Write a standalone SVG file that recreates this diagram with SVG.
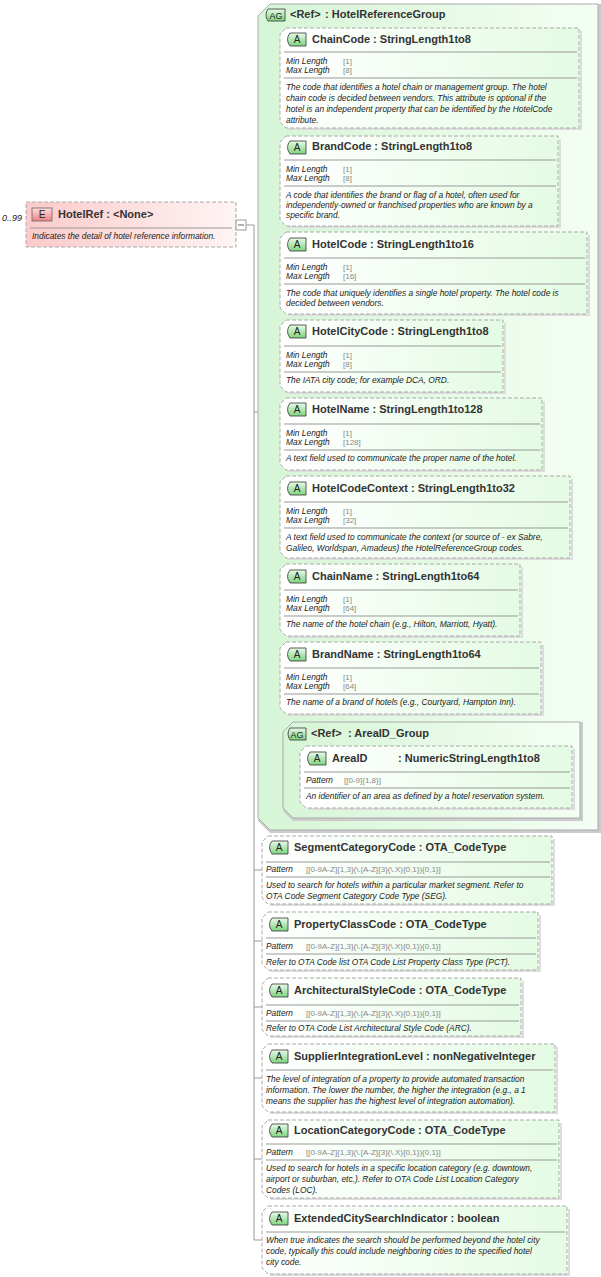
<svg xmlns="http://www.w3.org/2000/svg" width="601" height="1277" viewBox="0 0 601 1277">
<defs>
<linearGradient id="ga" x1="0" y1="0" x2="1" y2="0"><stop offset="0" stop-color="#ffffff"/><stop offset="1" stop-color="#e4fbe4"/></linearGradient>
<linearGradient id="gg" x1="0" y1="0" x2="1" y2="0"><stop offset="0" stop-color="#d6f5d6"/><stop offset="1" stop-color="#f4fef4"/></linearGradient>
<linearGradient id="ge" x1="0" y1="0" x2="1" y2="0"><stop offset="0" stop-color="#fbcaca"/><stop offset="1" stop-color="#fff4f4"/></linearGradient>
<linearGradient id="gb" x1="0" y1="0" x2="0" y2="1"><stop offset="0" stop-color="#e8fbe8"/><stop offset="1" stop-color="#7fd37f"/></linearGradient>
<linearGradient id="geb" x1="0" y1="0" x2="0" y2="1"><stop offset="0" stop-color="#ffdddd"/><stop offset="1" stop-color="#f08080"/></linearGradient>
</defs>
<style>
.bx{fill:url(#ga);stroke:#aaa;stroke-dasharray:4,2;stroke-width:1}
.sh{fill:none;stroke:#ddd;stroke-width:2}
.ag{fill:url(#gg);stroke:#aaa;stroke-width:1}
.sep{stroke:#999;stroke-width:1}
.bd{fill:url(#gb);stroke:#333;stroke-width:0.8}
.h{font-family:"Liberation Sans",Arial,sans-serif;font-size:11px;font-weight:bold;fill:#333}
.bt{font-family:"Liberation Sans",Arial,sans-serif;font-size:10px;fill:#222}
.i{font-family:"Liberation Sans",Arial,sans-serif;font-size:8.4px;font-style:italic;fill:#222}
.v{font-family:"Liberation Sans",Arial,sans-serif;font-size:8px;fill:#888}
.c{fill:none;stroke:#999;stroke-width:1}
</style>
<g id="connectors">
<path class="c" d="M246,225 H254 V1240 M254,412 H258 M254,870 H262 M254,941 H262 M254,1007 H262 M254,1078 H262 M254,1159 H262 M254,1240 H262"/>
<path class="c" d="M268,78 V768 M268,78 H280 M268,181 H280 M268,273 H280 M268,356 H280 M268,434 H280 M268,517 H280 M268,600 H280 M268,678 H280 M268,768 H283 M283,777 H300"/>
</g>
<g id="HotelRef">
<text x="2" y="221" class="i" style="font-size:9px">0..99</text>
<path d="M26,202 H236 V247 H26 Z" fill="url(#ge)" stroke="#aaa" stroke-dasharray="4,2"/>
<rect x="32" y="208" width="20" height="13" fill="url(#geb)" stroke="#666" stroke-width="0.8"/>
<text x="42" y="218" class="bt" text-anchor="middle">E</text>
<text x="58" y="218" class="h">HotelRef : &lt;None&gt;</text>
<line x1="30" y1="228" x2="232" y2="228" class="sep"/>
<text x="32" y="239" class="i">Indicates the detail of hotel reference information.</text>
<rect x="236" y="220" width="10" height="10" fill="#fff" stroke="#999"/>
<line x1="238" y1="225" x2="244" y2="225" stroke="#666"/>
</g>
<g id="HotelReferenceGroup">
<path d="M270,4 H601 V833 H270 L258,821 V16 Z" fill="#ccc"/>
<path class="ag" d="M270,4 H598 V830 H270 L258,818 V16 Z"/>
<path class="bd" d="M268,9 H285 V21 H268 Q264,15 268,9 Z"/>
<text x="276" y="19" class="bt" text-anchor="middle" style="font-size:9px">AG</text>
<text x="290" y="18" class="h">&lt;Ref&gt;</text><text x="325" y="18" class="h">: HotelReferenceGroup</text>
</g>
<g id="ChainCode" transform="translate(280,28)">
<path class="sh" d="M301,3 V101 H8"/>
<path class="bx" d="M6,0 H299 V100 H6 L0,94 V6 Z"/>
<path class="bd" d="M10,5 H26 V18 H10 Q5,11.5 10,5 Z"/><text x="17" y="15" class="bt" text-anchor="middle">A</text>
<text x="32" y="15" class="h">ChainCode : StringLength1to8</text>
<line x1="4" y1="24" x2="297" y2="24" class="sep"/>
<text x="6" y="36" class="i">Min Length</text><text x="63" y="36" class="v">[1]</text>
<text x="6" y="45" class="i">Max Length</text><text x="63" y="45" class="v">[8]</text>
<line x1="4" y1="50" x2="297" y2="50" class="sep"/>
<text x="6" y="62" class="i">The code that identifies a hotel chain or management group. The hotel</text>
<text x="6" y="73" class="i">chain code is decided between vendors.  This attribute is optional if the</text>
<text x="6" y="84" class="i">hotel is an independent property that can be identified by the HotelCode</text>
<text x="6" y="95" class="i">attribute.</text>
</g>
<g id="BrandCode" transform="translate(280,136)">
<path class="sh" d="M280,3 V91 H8"/>
<path class="bx" d="M6,0 H278 V90 H6 L0,84 V6 Z"/>
<path class="bd" d="M10,5 H26 V18 H10 Q5,11.5 10,5 Z"/><text x="17" y="15" class="bt" text-anchor="middle">A</text>
<text x="32" y="14" class="h">BrandCode : StringLength1to8</text>
<line x1="4" y1="24" x2="276" y2="24" class="sep"/>
<text x="6" y="36" class="i">Min Length</text><text x="63" y="36" class="v">[1]</text>
<text x="6" y="45" class="i">Max Length</text><text x="63" y="45" class="v">[8]</text>
<line x1="4" y1="50" x2="276" y2="50" class="sep"/>
<text x="6" y="62" class="i">A code that identifies the brand or flag of a hotel, often used for</text>
<text x="6" y="72" class="i">independently-owned or franchised properties who are known by a</text>
<text x="6" y="82" class="i">specific brand.</text>
</g>
<g id="HotelCode" transform="translate(280,232)">
<path class="sh" d="M309,3 V83 H8"/>
<path class="bx" d="M6,0 H307 V82 H6 L0,76 V6 Z"/>
<path class="bd" d="M10,6 H26 V19 H10 Q5,12.5 10,6 Z"/><text x="17" y="16" class="bt" text-anchor="middle">A</text>
<text x="32" y="16" class="h">HotelCode : StringLength1to16</text>
<line x1="4" y1="26" x2="305" y2="26" class="sep"/>
<text x="6" y="38" class="i">Min Length</text><text x="63" y="38" class="v">[1]</text>
<text x="6" y="47" class="i">Max Length</text><text x="63" y="47" class="v">[16]</text>
<line x1="4" y1="52" x2="305" y2="52" class="sep"/>
<text x="6" y="64" class="i">The code that uniquely identifies a single hotel property. The hotel code is</text>
<text x="6" y="74" class="i">decided between vendors.</text>
</g>
<g id="HotelCityCode" transform="translate(280,320)">
<path class="sh" d="M225,3 V73 H8"/>
<path class="bx" d="M6,0 H223 V72 H6 L0,66 V6 Z"/>
<path class="bd" d="M10,5 H26 V18 H10 Q5,11.5 10,5 Z"/><text x="17" y="15" class="bt" text-anchor="middle">A</text>
<text x="32" y="15" class="h">HotelCityCode : StringLength1to8</text>
<line x1="4" y1="26" x2="221" y2="26" class="sep"/>
<text x="6" y="38" class="i">Min Length</text><text x="63" y="38" class="v">[1]</text>
<text x="6" y="47" class="i">Max Length</text><text x="63" y="47" class="v">[8]</text>
<line x1="4" y1="52" x2="221" y2="52" class="sep"/>
<text x="6" y="63" class="i">The IATA city code; for example DCA, ORD.</text>
</g>
<g id="HotelName" transform="translate(280,398)">
<path class="sh" d="M264,3 V73 H8"/>
<path class="bx" d="M6,0 H262 V72 H6 L0,66 V6 Z"/>
<path class="bd" d="M10,5 H26 V18 H10 Q5,11.5 10,5 Z"/><text x="17" y="15" class="bt" text-anchor="middle">A</text>
<text x="32" y="15" class="h">HotelName : StringLength1to128</text>
<line x1="4" y1="26" x2="260" y2="26" class="sep"/>
<text x="6" y="38" class="i">Min Length</text><text x="63" y="38" class="v">[1]</text>
<text x="6" y="47" class="i">Max Length</text><text x="63" y="47" class="v">[128]</text>
<line x1="4" y1="52" x2="260" y2="52" class="sep"/>
<text x="6" y="63" class="i">A text field used to communicate the proper name of the hotel.</text>
</g>
<g id="HotelCodeContext" transform="translate(280,476)">
<path class="sh" d="M292,3 V83 H8"/>
<path class="bx" d="M6,0 H290 V82 H6 L0,76 V6 Z"/>
<path class="bd" d="M10,6 H26 V19 H10 Q5,12.5 10,6 Z"/><text x="17" y="16" class="bt" text-anchor="middle">A</text>
<text x="32" y="16" class="h">HotelCodeContext : StringLength1to32</text>
<line x1="4" y1="26" x2="288" y2="26" class="sep"/>
<text x="6" y="38" class="i">Min Length</text><text x="63" y="38" class="v">[1]</text>
<text x="6" y="47" class="i">Max Length</text><text x="63" y="47" class="v">[32]</text>
<line x1="4" y1="52" x2="288" y2="52" class="sep"/>
<text x="6" y="64" class="i">A text field used to communicate the context (or source of - ex Sabre,</text>
<text x="6" y="75" class="i">Galileo, Worldspan, Amadeus) the HotelReferenceGroup codes.</text>
</g>
<g id="ChainName" transform="translate(280,564)">
<path class="sh" d="M242,3 V73 H8"/>
<path class="bx" d="M6,0 H240 V72 H6 L0,66 V6 Z"/>
<path class="bd" d="M10,6 H26 V19 H10 Q5,12.5 10,6 Z"/><text x="17" y="16" class="bt" text-anchor="middle">A</text>
<text x="32" y="16" class="h">ChainName : StringLength1to64</text>
<line x1="4" y1="26" x2="238" y2="26" class="sep"/>
<text x="6" y="38" class="i">Min Length</text><text x="63" y="38" class="v">[1]</text>
<text x="6" y="47" class="i">Max Length</text><text x="63" y="47" class="v">[64]</text>
<line x1="4" y1="52" x2="238" y2="52" class="sep"/>
<text x="6" y="63" class="i">The name of the hotel chain (e.g., Hilton, Marriott, Hyatt).</text>
</g>
<g id="BrandName" transform="translate(280,642)">
<path class="sh" d="M263,3 V73 H8"/>
<path class="bx" d="M6,0 H261 V72 H6 L0,66 V6 Z"/>
<path class="bd" d="M10,6 H26 V19 H10 Q5,12.5 10,6 Z"/><text x="17" y="16" class="bt" text-anchor="middle">A</text>
<text x="32" y="16" class="h">BrandName : StringLength1to64</text>
<line x1="4" y1="26" x2="259" y2="26" class="sep"/>
<text x="6" y="38" class="i">Min Length</text><text x="63" y="38" class="v">[1]</text>
<text x="6" y="47" class="i">Max Length</text><text x="63" y="47" class="v">[64]</text>
<line x1="4" y1="52" x2="259" y2="52" class="sep"/>
<text x="6" y="63" class="i">The name of a brand of hotels (e.g., Courtyard, Hampton Inn).</text>
</g>
<g id="AreaID_Group">
<path d="M293,722 H583 V821 H293 L283,811 V732 Z" fill="#ccc"/>
<path class="ag" d="M293,722 H580 V818 H293 L283,808 V732 Z"/>
<path class="bd" d="M290,728 H306 V740 H290 Q286,734 290,728 Z"/>
<text x="297" y="738" class="bt" text-anchor="middle" style="font-size:9px">AG</text>
<text x="311" y="737" class="h">&lt;Ref&gt;</text><text x="348" y="737" class="h">: AreaID_Group</text>
</g>
<g id="AreaID" transform="translate(300,746)">
<path class="sh" d="M274,3 V63 H8"/>
<path class="bx" d="M6,0 H272 V62 H6 L0,56 V6 Z"/>
<path class="bd" d="M10,6 H26 V19 H10 Q5,12.5 10,6 Z"/><text x="17" y="16" class="bt" text-anchor="middle">A</text>
<text x="32" y="16" class="h">AreaID</text><text x="98" y="16" class="h">: NumericStringLength1to8</text>
<line x1="4" y1="26" x2="270" y2="26" class="sep"/>
<text x="6" y="37" class="i">Pattern</text><text x="44" y="37" class="v">[[0-9]{1,8}]</text>
<line x1="4" y1="42" x2="270" y2="42" class="sep"/>
<text x="6" y="53" class="i">An identifier of an area as defined by a hotel reservation system.</text>
</g>
<g id="SegmentCategoryCode" transform="translate(262,836)">
<path class="sh" d="M292,3 V69 H8"/>
<path class="bx" d="M6,0 H290 V68 H6 L0,62 V6 Z"/>
<path class="bd" d="M10,5 H26 V18 H10 Q5,11.5 10,5 Z"/><text x="17" y="15" class="bt" text-anchor="middle">A</text>
<text x="32" y="15" class="h">SegmentCategoryCode : OTA_CodeType</text>
<line x1="4" y1="26" x2="288" y2="26" class="sep"/>
<text x="4" y="36" class="i">Pattern</text><text x="44" y="36" class="v">[[0-9A-Z]{1,3}(\.[A-Z]{3}(\.X){0,1}){0,1}]</text>
<line x1="4" y1="41" x2="288" y2="41" class="sep"/>
<text x="4" y="52" class="i">Used to search for hotels within a particular market segment.  Refer to</text>
<text x="4" y="63" class="i">OTA Code Segment Category Code Type (SEG).</text>
</g>
<g id="PropertyClassCode" transform="translate(262,912)">
<path class="sh" d="M278,3 V59 H8"/>
<path class="bx" d="M6,0 H276 V58 H6 L0,52 V6 Z"/>
<path class="bd" d="M10,6 H26 V19 H10 Q5,12.5 10,6 Z"/><text x="17" y="16" class="bt" text-anchor="middle">A</text>
<text x="32" y="16" class="h">PropertyClassCode : OTA_CodeType</text>
<line x1="4" y1="26" x2="274" y2="26" class="sep"/>
<text x="4" y="37" class="i">Pattern</text><text x="44" y="37" class="v">[[0-9A-Z]{1,3}(\.[A-Z]{3}(\.X){0,1}){0,1}]</text>
<line x1="4" y1="42" x2="274" y2="42" class="sep"/>
<text x="4" y="53" class="i">Refer to OTA Code list OTA Code List Property Class Type (PCT).</text>
</g>
<g id="ArchitecturalStyleCode" transform="translate(262,978)">
<path class="sh" d="M261,3 V59 H8"/>
<path class="bx" d="M6,0 H259 V58 H6 L0,52 V6 Z"/>
<path class="bd" d="M10,6 H26 V19 H10 Q5,12.5 10,6 Z"/><text x="17" y="16" class="bt" text-anchor="middle">A</text>
<text x="32" y="16" class="h">ArchitecturalStyleCode : OTA_CodeType</text>
<line x1="4" y1="27" x2="257" y2="27" class="sep"/>
<text x="4" y="38" class="i">Pattern</text><text x="44" y="38" class="v">[[0-9A-Z]{1,3}(\.[A-Z]{3}(\.X){0,1}){0,1}]</text>
<line x1="4" y1="43" x2="257" y2="43" class="sep"/>
<text x="4" y="53" class="i">Refer to OTA Code List Architectural Style Code (ARC).</text>
</g>
<g id="SupplierIntegrationLevel" transform="translate(262,1044)">
<path class="sh" d="M295,3 V69 H8"/>
<path class="bx" d="M6,0 H293 V68 H6 L0,62 V6 Z"/>
<path class="bd" d="M10,6 H26 V19 H10 Q5,12.5 10,6 Z"/><text x="17" y="16" class="bt" text-anchor="middle">A</text>
<text x="32" y="16" class="h">SupplierIntegrationLevel : nonNegativeInteger</text>
<line x1="4" y1="26" x2="291" y2="26" class="sep"/>
<text x="4" y="38" class="i">The level of integration of a property to provide automated transaction</text>
<text x="4" y="49" class="i">information. The lower the number, the higher the integration (e.g., a 1</text>
<text x="4" y="60" class="i">means the supplier has the highest level of integration automation).</text>
</g>
<g id="LocationCategoryCode" transform="translate(262,1120)">
<path class="sh" d="M299,3 V79 H8"/>
<path class="bx" d="M6,0 H297 V78 H6 L0,72 V6 Z"/>
<path class="bd" d="M10,4 H26 V17 H10 Q5,10.5 10,4 Z"/><text x="17" y="14" class="bt" text-anchor="middle">A</text>
<text x="32" y="14" class="h">LocationCategoryCode : OTA_CodeType</text>
<line x1="4" y1="24" x2="295" y2="24" class="sep"/>
<text x="4" y="35" class="i">Pattern</text><text x="44" y="35" class="v">[[0-9A-Z]{1,3}(\.[A-Z]{3}(\.X){0,1}){0,1}]</text>
<line x1="4" y1="40" x2="295" y2="40" class="sep"/>
<text x="4" y="51" class="i">Used to search for hotels in a specific location category (e.g. downtown,</text>
<text x="4" y="62" class="i">airport or suburban, etc.). Refer to OTA Code List Location Category</text>
<text x="4" y="73" class="i">Codes (LOC).</text>
</g>
<g id="ExtendedCitySearchIndicator" transform="translate(262,1206)">
<path class="sh" d="M307,3 V69 H8"/>
<path class="bx" d="M6,0 H305 V68 H6 L0,62 V6 Z"/>
<path class="bd" d="M10,6 H26 V19 H10 Q5,12.5 10,6 Z"/><text x="17" y="16" class="bt" text-anchor="middle">A</text>
<text x="32" y="16" class="h">ExtendedCitySearchIndicator : boolean</text>
<line x1="4" y1="26" x2="303" y2="26" class="sep"/>
<text x="4" y="37" class="i">When true indicates the search should be performed beyond the hotel city</text>
<text x="4" y="48" class="i">code, typically this could include neighboring cities to the specified hotel</text>
<text x="4" y="59" class="i">city code.</text>
</g>
</svg>
